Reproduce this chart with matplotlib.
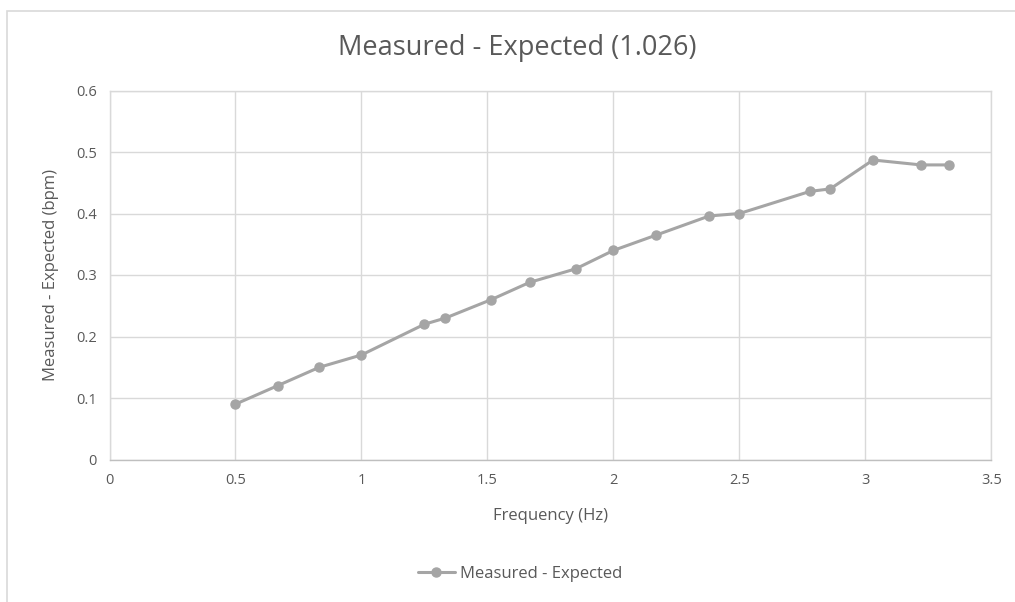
import matplotlib
matplotlib.use("Agg")
import matplotlib.pyplot as plt
from matplotlib.patches import Rectangle

# Frequency (Hz) and measured minus expected rate (bpm)
frequency_hz = [0.5, 0.667, 0.833, 1.0, 1.25, 1.333, 1.515, 1.667, 1.85, 2.0,
                2.17, 2.38, 2.5, 2.78, 2.86, 3.03, 3.22, 3.33]
diff_bpm = [0.09, 0.12, 0.15, 0.17, 0.22, 0.23, 0.26, 0.288, 0.31, 0.34,
            0.365, 0.396, 0.40, 0.436, 0.44, 0.487, 0.479, 0.479]

x_ticks = [0, 0.5, 1, 1.5, 2, 2.5, 3, 3.5]
y_ticks = [0, 0.1, 0.2, 0.3, 0.4, 0.5, 0.6]
x_tick_labels = ["0", "0.5", "1", "1.5", "2", "2.5", "3", "3.5"]
y_tick_labels = ["0", "0.1", "0.2", "0.3", "0.4", "0.5", "0.6"]

title = "Measured - Expected (1.026)"
series_name = "Measured - Expected"

plt.rcParams["font.family"] = ["Open Sans", "DejaVu Sans"]

text_col = "#595959"
grid_col = "#D9D9D9"
line_col = "#A5A5A5"

fig = plt.figure(figsize=(10.15, 6.02), dpi=100)
fig.patch.set_facecolor("white")

# chart-area frame
fig.add_artist(Rectangle((6.5 / 1015, -0.1), 1.2, (602 - 10.5) / 602 + 0.1,
                         transform=fig.transFigure, fill=False,
                         edgecolor=grid_col, linewidth=1.2))

ax = fig.add_axes([109.5 / 1015, (602 - 459.5) / 602,
                   (991.5 - 109.5) / 1015, (459.5 - 90.5) / 602])

ax.plot(frequency_hz, diff_bpm, color=line_col, linewidth=2.2,
        marker="o", markersize=6.5, markerfacecolor=line_col,
        markeredgecolor=line_col, label=series_name, zorder=3,
        solid_capstyle="round")

ax.set_xlim(0, 3.5)
ax.set_ylim(0, 0.6)
ax.set_xticks(x_ticks)
ax.set_xticklabels(x_tick_labels)
ax.set_yticks(y_ticks)
ax.set_yticklabels(y_tick_labels)
ax.grid(True, color=grid_col, linewidth=1.0)
ax.set_axisbelow(True)
for s in ax.spines.values():
    s.set_color(grid_col)
    s.set_linewidth(1.0)
ax.spines["bottom"].set_color("#BFBFBF")
ax.tick_params(axis="x", length=0, labelsize=10.5, colors=text_col, pad=10)
ax.tick_params(axis="y", length=0, labelsize=10.5, colors=text_col, pad=9)

ax.set_xlabel("Frequency (Hz)", fontsize=12, color=text_col, labelpad=14)
ax.set_ylabel("Measured - Expected (bpm)", fontsize=12, color=text_col,
              labelpad=12)

fig.text(517 / 1015, 1 - 48 / 602, title, ha="center", va="center",
         fontsize=19.5, color=text_col)

leg = fig.legend(loc="center", bbox_to_anchor=(520 / 1015, 1 - 574 / 602),
                 frameon=False, fontsize=12, handlelength=2.2,
                 handletextpad=0.3, labelcolor=text_col)

fig.savefig("out.png", dpi=100, facecolor="white")
